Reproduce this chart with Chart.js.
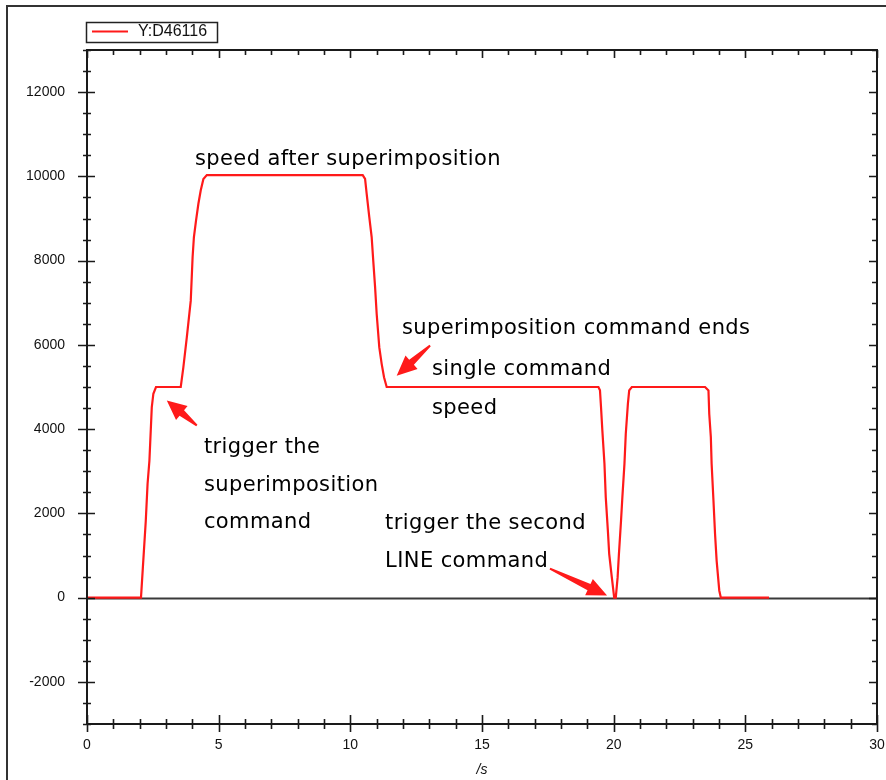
<!DOCTYPE html>
<html>
<head>
<meta charset="utf-8">
<script src="https://cdn.jsdelivr.net/npm/chart.js@4/dist/chart.umd.min.js"></script>
<style>
  html, body { margin: 0; padding: 0; background: #fff; }
  #wrap { position: relative; width: 886px; height: 780px; }
</style>
</head>
<body>
<div id="wrap"><canvas id="c" width="886" height="780"></canvas></div>
<script>
// ---- data ----
const seriesLabel = 'Y:D46116';
const timeS = [
  0, 2.05, 2.12, 2.23, 2.30, 2.37, 2.46, 2.52, 2.62,
  3.56, 3.66, 3.79, 3.94, 4.01, 4.06, 4.14, 4.23, 4.32, 4.42, 4.55,
  10.47, 10.56, 10.62, 10.72, 10.81, 10.87, 10.94, 11.00, 11.10, 11.19, 11.28, 11.38,
  19.42, 19.48, 19.52, 19.57, 19.65, 19.70, 19.78, 19.83, 19.93, 20.02,
  20.08, 20.15, 20.20, 20.28, 20.33, 20.41, 20.46, 20.54, 20.59, 20.69,
  23.47, 23.60, 23.63, 23.69, 23.72, 23.79, 23.85, 23.91, 24.01, 24.07,
  25.90
];
const speed = [
  0, 0, 700, 1800, 2700, 3250, 4520, 4840, 5000,
  5000, 5470, 6180, 7050, 8080, 8560, 8950, 9350, 9670, 9940, 10030,
  10030, 9940, 9590, 9030, 8560, 8000, 7370, 6740, 5940, 5550, 5230, 5000,
  5000, 4920, 4520, 3970, 3180, 2380, 1590, 1040, 480, 0,
  0, 480, 1040, 1830, 2380, 3180, 3890, 4600, 4920, 5000,
  5000, 4920, 4360, 3810, 3180, 2300, 1510, 880, 170, 0,
  0
];
const xTickLabels = [0, 5, 10, 15, 20, 25, 30];
const yTickLabels = [-2000, 0, 2000, 4000, 6000, 8000, 10000, 12000];
const xAxisTitle = '/s';

// annotation texts (anchored in data units: left x, middle y)
const noteText = [
  'speed after superimposition',
  'superimposition command ends',
  'single command',
  'speed',
  'trigger the',
  'superimposition',
  'command',
  'trigger the second',
  'LINE command'
];
const noteT = [4.10, 11.96, 13.10, 13.10, 4.44, 4.44, 4.44, 11.32, 11.32];
const noteV = [10400, 6390, 5415, 4490, 3560, 2660, 1780, 1760, 855];

// arrows (tail -> tip, data units)
const arrowTailT = [4.17, 13.03, 17.58];
const arrowTailV = [4085, 5985, 690];
const arrowTipT  = [3.03, 11.76, 19.75];
const arrowTipV  = [4680, 5270, 48];

// ---- styling ----
const AXIS = '#1a1a1a';
const RED = '#ff1a1a';

const decor = {
  id: 'decor',
  beforeDatasetsDraw(chart) {
    const {ctx, chartArea: a, scales: {x, y}} = chart;
    ctx.save();
    const y0 = Math.round(y.getPixelForValue(0)) + 0.5;
    ctx.strokeStyle = '#3a3a3a';
    ctx.lineWidth = 2;
    ctx.beginPath(); ctx.moveTo(a.left, y0); ctx.lineTo(a.right, y0); ctx.stroke();
    ctx.restore();
  },
  afterDraw(chart) {
    const {ctx, chartArea: a, scales: {x, y}} = chart;
    ctx.save();
    // outer frame
    ctx.strokeStyle = '#333';
    ctx.lineWidth = 2;
    ctx.strokeRect(7, 6, 1000, 1000);

    // plot box
    ctx.strokeStyle = AXIS;
    ctx.lineWidth = 2;
    ctx.strokeRect(a.left, a.top, a.right - a.left, a.bottom - a.top);

    // ticks
    ctx.lineWidth = 1.6;
    ctx.beginPath();
    for (let v = x.min; v <= x.max + 1e-9; v += 1) {
      const px = Math.round(x.getPixelForValue(v)) + 0.5;
      const major = Math.abs(v % 5) < 1e-9;
      ctx.moveTo(px, a.bottom - (major ? 9 : 5));
      ctx.lineTo(px, a.bottom + (major ? 8 : 5));
      ctx.moveTo(px, a.top);
      ctx.lineTo(px, a.top + (major ? 8 : 5));
    }
    for (let v = y.min; v <= y.max + 1e-9; v += 500) {
      const py = Math.round(y.getPixelForValue(v)) + 0.5;
      const major = Math.abs(v % 2000) < 1e-9;
      ctx.moveTo(a.left - (major ? 9 : 4), py);
      ctx.lineTo(a.left + (major ? 8 : 4), py);
      ctx.moveTo(a.right, py);
      ctx.lineTo(a.right - (major ? 8 : 5), py);
    }
    ctx.stroke();

    // legend box
    ctx.lineWidth = 1.5;
    ctx.strokeStyle = '#222';
    ctx.strokeRect(86.5, 22.5, 131, 20);
    ctx.strokeStyle = RED;
    ctx.lineWidth = 2;
    ctx.beginPath(); ctx.moveTo(92, 31.5); ctx.lineTo(128, 31.5); ctx.stroke();
    ctx.fillStyle = '#111';
    ctx.font = '16px "Liberation Sans", Arial, sans-serif';
    ctx.textBaseline = 'middle';
    ctx.textAlign = 'left';
    ctx.fillText(chart.data.datasets[0].label, 138, 32);

    // annotations
    ctx.fillStyle = '#000';
    ctx.font = '21px "DejaVu Sans", "Noto Sans", sans-serif';
    ctx.letterSpacing = '0.4px';
    ctx.textBaseline = 'middle';
    for (let i = 0; i < noteText.length; i++) {
      ctx.fillText(noteText[i], x.getPixelForValue(noteT[i]), y.getPixelForValue(noteV[i]));
    }
    ctx.letterSpacing = '0px';

    // arrows
    ctx.fillStyle = RED;
    for (let i = 0; i < arrowTipT.length; i++) {
      const tx = x.getPixelForValue(arrowTailT[i]), ty = y.getPixelForValue(arrowTailV[i]);
      const hx = x.getPixelForValue(arrowTipT[i]), hy = y.getPixelForValue(arrowTipV[i]);
      const dx = hx - tx, dy = hy - ty, L = Math.hypot(dx, dy);
      const ux = dx / L, uy = dy / L, nx = -uy, ny = ux;
      const headLen = Math.min(20, L * 0.5), headW = 9;
      const bx = hx - ux * headLen, by = hy - uy * headLen;
      ctx.beginPath();
      ctx.moveTo(tx + nx * 1, ty + ny * 1);
      ctx.lineTo(bx + nx * 3.5, by + ny * 3.5);
      ctx.lineTo(bx + nx * headW, by + ny * headW);
      ctx.lineTo(hx, hy);
      ctx.lineTo(bx - nx * headW, by - ny * headW);
      ctx.lineTo(bx - nx * 3.5, by - ny * 3.5);
      ctx.lineTo(tx - nx * 1, ty - ny * 1);
      ctx.closePath();
      ctx.fill();
    }
    ctx.restore();
  }
};

const tickFont = { family: '"Liberation Sans", Arial, sans-serif', size: 14 };

new Chart(document.getElementById('c'), {
  type: 'scatter',
  data: {
    datasets: [{
      label: seriesLabel,
      data: timeS.map((t, i) => ({ x: t, y: speed[i] })),
      showLine: true,
      borderColor: RED,
      borderWidth: 2.2,
      pointRadius: 0,
      fill: false,
      tension: 0
    }]
  },
  options: {
    responsive: false,
    animation: false,
    devicePixelRatio: 1,
    layout: { padding: { top: 50, right: 9, left: 0, bottom: 0 } },
    plugins: { legend: { display: false }, tooltip: { enabled: false } },
    scales: {
      x: {
        type: 'linear',
        min: 0, max: 30,
        grid: { display: false, drawTicks: false },
        border: { display: false },
        afterBuildTicks: s => { s.ticks = xTickLabels.map(v => ({ value: v })); },
        afterFit: s => { s.height = 56; s.paddingLeft = 0; s.paddingRight = 0; },
        ticks: { color: '#111', font: tickFont, padding: 13, maxRotation: 0, autoSkip: false,
                 callback: v => String(v) },
        title: { display: true, text: xAxisTitle, color: '#111',
                 font: { family: '"Liberation Sans", Arial, sans-serif', size: 14, style: 'italic' },
                 padding: { top: 0, bottom: 1 } }
      },
      y: {
        type: 'linear',
        min: -3000, max: 13000,
        grid: { display: false, drawTicks: false },
        border: { display: false },
        afterBuildTicks: s => { s.ticks = yTickLabels.map(v => ({ value: v })); },
        afterFit: s => { s.width = 87; s.paddingTop = 0; s.paddingBottom = 0; },
        ticks: { color: '#111', font: tickFont, padding: 22, autoSkip: false,
                 callback: v => String(v) }
      }
    }
  },
  plugins: [decor]
});
</script>
</body>
</html>
